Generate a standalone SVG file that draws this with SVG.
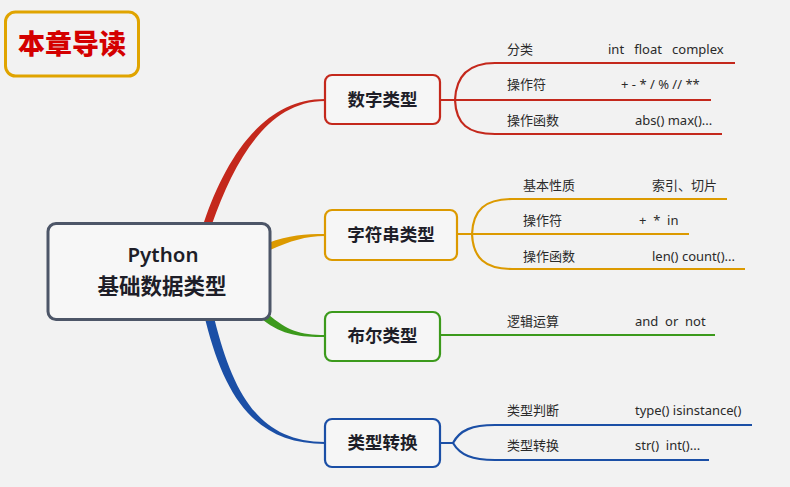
<svg xmlns="http://www.w3.org/2000/svg" width="790" height="487" viewBox="0 0 790 487">
<style>
.bg{fill:#f2f2f2}
.node rect{fill:#f6f6f6;stroke-width:2.2}
.ntext{font-family:"Noto Sans","Noto Sans CJK SC",sans-serif;font-size:17.5px;font-weight:bold;fill:#1e1e28;text-anchor:middle}
.ctext{font-family:"Noto Sans","Noto Sans CJK SC",sans-serif;font-size:13px;fill:#2a2a2a}
.fork{fill:none;stroke-width:2.2}
.red{stroke:#c4281c}.gold{stroke:#dc9a00}.green{stroke:#3c9a1c}.blue{stroke:#1b4fa6}
</style>
<rect class="bg" x="0" y="0" width="790" height="487"/>
<g id="connectors">
<path d="M 204 222 C 226 158 263 99 325 99 L 325 101 C 267 101 234 162 212 224 Z" fill="#c4281c"/>
<path d="M 268 243 C 289 235 305 234 325 234 L 325 236 C 305 236 291 241 270 250 Z" fill="#dc9a00"/>
<path d="M 268 314 C 287 330.5 300 335 325 335 L 325 337 C 300 337 283 335.5 263 320 Z" fill="#3c9a1c"/>
<path d="M 214.4 318.9 C 234 398 262 442 325 442 L 325 444 C 258 444 226 402 205.6 321.1 Z" fill="#1b4fa6"/>
<path class="fork red" d="M 440 100 L 711 100 M 455 100 C 456 76 468 63 495 63 L 735 63 M 455 100 C 456 124 468 134 495 134 L 722 134"/>
<path class="fork gold" d="M 457 234 L 689 234 M 472 234 C 473 210 485 199 512 199 L 727 199 M 472 234 C 473 258 485 269 512 269 L 745 269"/>
<path class="fork green" d="M 440 335 L 715 335"/>
<path class="fork blue" d="M 440 443 L 453 443 M 453 443 C 460 430 472 425 495 425 L 752 425 M 453 443 C 460 455 472 460 495 460 L 709 460"/>
</g>
<g id="title">
<rect x="5.5" y="12" width="133" height="64" rx="10" fill="#f2f2f2" stroke="#e0a400" stroke-width="3"/>
<text x="72" y="54" font-family="'Noto Sans CJK SC',sans-serif" font-size="27" font-weight="900" fill="#d40000" text-anchor="middle">本章导读</text>
</g>
<g id="root">
<rect x="48" y="223.5" width="222" height="96" rx="8" fill="#f7f7f7" stroke="#4d5668" stroke-width="3"/>
<text x="163" y="262" font-family="'Noto Sans',sans-serif" font-size="20.5" font-weight="600" fill="#1e1e28" text-anchor="middle">Python</text>
<text x="162" y="294" font-family="'Noto Sans CJK SC',sans-serif" font-size="21.5" font-weight="bold" fill="#1e1e28" text-anchor="middle">基础数据类型</text>
</g>
<g id="n-number" class="node">
<rect class="red" x="325" y="75" width="115" height="49" rx="7"/>
<text class="ntext" x="382.5" y="106">数字类型</text>
</g>
<g id="n-string" class="node">
<rect class="gold" x="325" y="210" width="132" height="50" rx="7"/>
<text class="ntext" x="391" y="241">字符串类型</text>
</g>
<g id="n-bool" class="node">
<rect class="green" x="325" y="312" width="115" height="49" rx="7"/>
<text class="ntext" x="382.5" y="342">布尔类型</text>
</g>
<g id="n-convert" class="node">
<rect class="blue" x="325" y="419" width="115" height="48" rx="7"/>
<text class="ntext" x="382.5" y="449">类型转换</text>
</g>
<g id="leaves">
<text class="ctext" x="507" y="54">分类</text>
<text class="ctext" x="608" y="54" xml:space="preserve">int   float   complex</text>
<text class="ctext" x="507" y="89">操作符</text>
<text class="ctext" x="621" y="89">+ - * / % // **</text>
<text class="ctext" x="507" y="125">操作函数</text>
<text class="ctext" x="635" y="125">abs() max()...</text>
<text class="ctext" x="523" y="190">基本性质</text>
<text class="ctext" x="652" y="190">索引、切片</text>
<text class="ctext" x="523" y="225">操作符</text>
<text class="ctext" x="639" y="225" xml:space="preserve">+  *  in</text>
<text class="ctext" x="523" y="261">操作函数</text>
<text class="ctext" x="652" y="261">len() count()...</text>
<text class="ctext" x="507" y="326">逻辑运算</text>
<text class="ctext" x="635" y="326" xml:space="preserve">and  or  not</text>
<text class="ctext" x="507" y="415">类型判断</text>
<text class="ctext" x="635" y="415">type() isinstance()</text>
<text class="ctext" x="507" y="450">类型转换</text>
<text class="ctext" x="635" y="450" xml:space="preserve">str()  int()...</text>
</g>
</svg>
